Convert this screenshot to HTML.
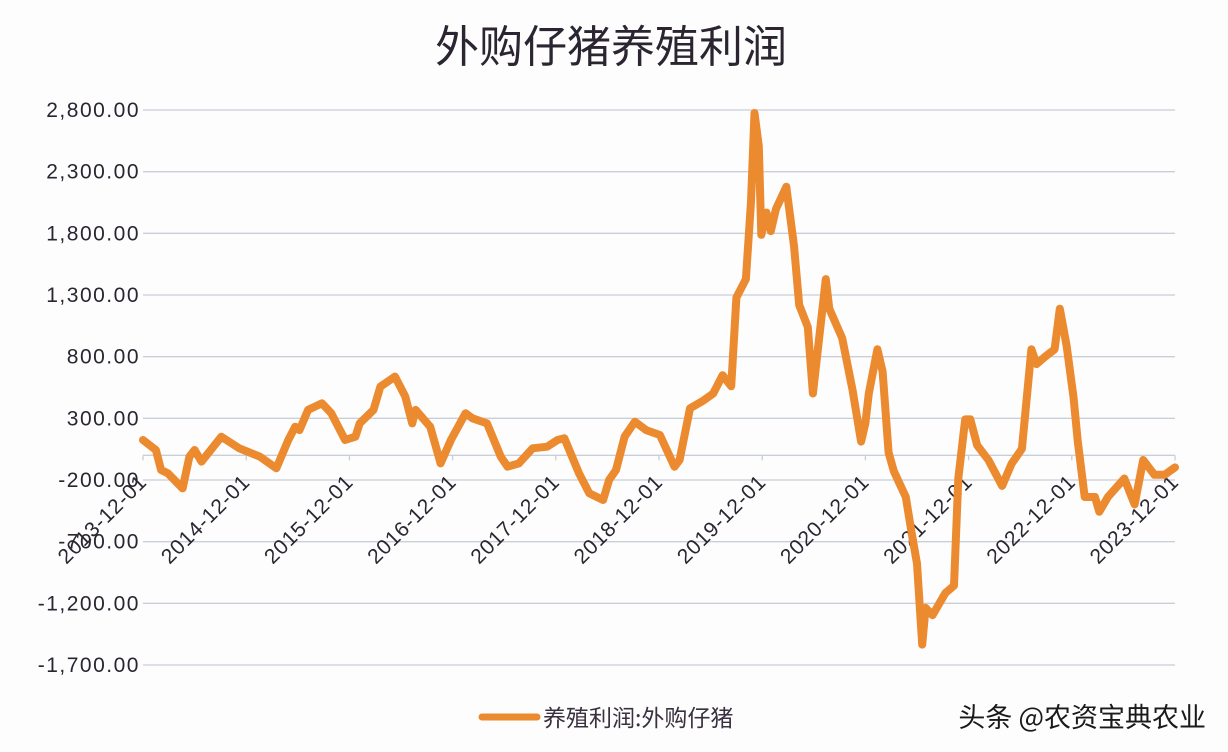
<!DOCTYPE html>
<html><head><meta charset="utf-8">
<style>
body{margin:0;background:#fff;}
svg{display:block;}
text{font-family:"Liberation Sans","Noto Sans CJK SC",sans-serif;}
</style></head>
<body>
<svg id="chart" width="1228" height="752" viewBox="0 0 1228 752" xmlns="http://www.w3.org/2000/svg">
<rect x="0" y="0" width="1228" height="752" fill="#fdfdfe"/>
<text x="611" y="62" text-anchor="middle" font-size="44" fill="#2a2530" style='font-family:"Noto Sans CJK SC",sans-serif'>外购仔猪养殖利润</text>
<g id="grid"></g>
<g id="yaxis"></g>
<g id="xaxis"></g>
<g id="series"></g>
<g>
<line x1="482" y1="717" x2="537" y2="717" stroke="#ec8a30" stroke-width="7" stroke-linecap="round"/>
<text x="543" y="726" font-size="23" fill="#3a3040" style='font-family:"Noto Sans CJK SC",sans-serif'>养殖利润:外购仔猪</text>
</g>
<text x="1206" y="727" text-anchor="end" font-size="27" fill="#1a1a1a" style='font-family:"Noto Sans CJK SC",sans-serif'>头条 @农资宝典农业</text>
</svg>
<script>
const months = [0,1.5,2.1,2.9,4.6,5.4,6.0,6.8,9.1,11.2,13.6,15.5,16.9,17.7,18.2,19.2,20.8,21.9,23.5,24.7,25.2,26.8,27.6,29.3,30.5,31.3,31.7,33.4,34.6,35.8,37.5,38.3,40.0,41.6,42.4,43.7,45.3,47.0,48.2,49.0,50.7,51.9,53.5,54.2,55.0,56.0,57.2,58.5,60.1,61.8,62.4,63.6,65.1,66.3,67.4,68.4,69.0,70.1,70.7,71.1,71.6,71.9,72.5,73.0,73.6,74.8,75.7,76.3,77.3,77.9,79.4,79.8,81.3,82.5,83.5,84.0,84.4,85.4,86.0,86.7,87.3,87.9,88.7,89.4,90.0,90.6,91.0,91.8,93.3,94.3,94.8,95.6,96.2,97.0,98.3,99.9,101.0,102.2,103.3,103.9,104.9,106.0,106.6,107.4,108.2,108.7,109.5,110.7,111.2,112.2,114.1,115.3,116.3,117.6,118.8,120];
const profit = [124,43,-119,-146,-268,-11,43,-51,151,57,-11,-105,124,232,205,368,422,341,124,151,259,368,557,638,476,259,368,232,-65,124,341,300,259,-11,-92,-65,57,70,124,138,-146,-308,-362,-200,-119,151,273,205,165,-92,-38,381,441,501,650,560,1279,1429,2057,2776,2507,1788,1968,1818,1998,2177,1698,1219,1040,501,1429,1189,950,531,111,261,501,860,680,22,-128,-218,-338,-637,-877,-1535,-1236,-1296,-1116,-1056,-188,291,291,81,-38,-248,-68,52,860,740,800,860,1189,890,471,111,-338,-338,-458,-338,-188,-398,-38,-158,-158,-98];
const yTicks = [2800,2300,1800,1300,800,300,-200,-700,-1200,-1700];
const yTickLabels = ["2,800.00","2,300.00","1,800.00","1,300.00","800.00","300.00","-200.00","-700.00","-1,200.00","-1,700.00"];
const xTickMonths = [0,12,24,36,48,60,72,84,96,108,120];
const xTickLabels = ["2013-12-01","2014-12-01","2015-12-01","2016-12-01","2017-12-01","2018-12-01","2019-12-01","2020-12-01","2021-12-01","2022-12-01","2023-12-01"];

const NS="http://www.w3.org/2000/svg";
const X0=143,X1=1175,Ytop=110,Ybot=665;
const xs=m=>X0+(m/120)*(X1-X0);
const ys=v=>Ytop+(2800-v)/4500*(Ybot-Ytop);
function mk(tag,attrs,parent){const e=document.createElementNS(NS,tag);for(const k in attrs)e.setAttribute(k,attrs[k]);parent.appendChild(e);return e;}
const grid=document.getElementById('grid'),yax=document.getElementById('yaxis'),xax=document.getElementById('xaxis'),ser=document.getElementById('series');
yTicks.forEach((v,i)=>{
  const l=mk('line',{x1:X0,x2:X1,y1:ys(v),y2:ys(v),stroke:'#c9cfd8','stroke-width':1.3},grid);
  
  
  const t=mk('text',{x:140,y:ys(v)+7,'text-anchor':'end','font-size':21,'letter-spacing':1.5,fill:'#2a2530'},yax);
  
  
  t.textContent=yTickLabels[i];
});
const axl=mk('line',{x1:X0,x2:X1,y1:ys(0),y2:ys(0),stroke:'#c9cfd8','stroke-width':1.3},xax);


xTickMonths.forEach((m,i)=>{
  const x=xs(m);
  const tk=mk('line',{x1:x,x2:x,y1:ys(0),y2:ys(0)+5,stroke:'#c9cfd8','stroke-width':1.3},xax);
  
  
  const ax=x+5, ay=ys(0)+28;
  const t=mk('text',{x:ax,y:ay,'text-anchor':'end','font-size':21,'letter-spacing':0.8,fill:'#2a2530',transform:`rotate(-45 ${ax} ${ay})`},xax);
  
  
  t.textContent=xTickLabels[i];
});
const d=months.map((m,i)=>(i?'L':'M')+xs(m).toFixed(1)+' '+ys(profit[i]).toFixed(1)).join(' ');
const p=mk('path',{d:d,fill:'none',stroke:'#ec8a30','stroke-width':8,'stroke-linejoin':'round','stroke-linecap':'round'},ser);


</script>
</body></html>
